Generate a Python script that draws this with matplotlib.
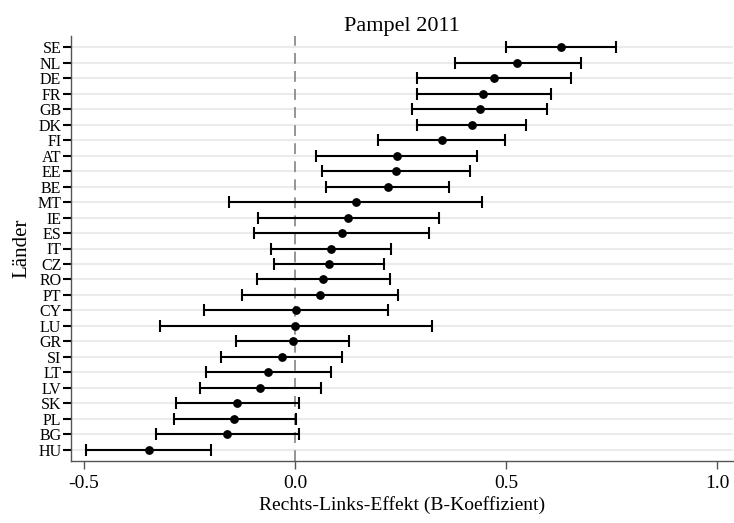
import matplotlib
matplotlib.use("Agg")
import matplotlib.pyplot as plt
import numpy as np

plt.rcParams['font.family'] = ['Liberation Serif', 'DejaVu Serif']

# Daten (von oben nach unten)
countries = ['SE', 'NL', 'DE', 'FR', 'GB', 'DK', 'FI', 'AT', 'EE', 'BE', 'MT', 'IE', 'ES',
             'IT', 'CZ', 'RO', 'PT', 'CY', 'LU', 'GR', 'SI', 'LT', 'LV', 'SK', 'PL', 'BG', 'HU']
estimate = [0.630, 0.527, 0.471, 0.446, 0.438, 0.419, 0.348, 0.241, 0.239, 0.220, 0.144, 0.126, 0.111,
            0.085, 0.081, 0.066, 0.058, 0.002, 0.001, -0.006, -0.032, -0.064, -0.082, -0.137, -0.144, -0.161, -0.347]
lower = [0.500, 0.378, 0.288, 0.289, 0.277, 0.289, 0.197, 0.050, 0.063, 0.074, -0.156, -0.088, -0.097,
         -0.057, -0.050, -0.090, -0.126, -0.216, -0.319, -0.140, -0.175, -0.211, -0.226, -0.281, -0.288, -0.329, -0.495]
upper = [0.761, 0.677, 0.654, 0.607, 0.598, 0.548, 0.497, 0.432, 0.414, 0.366, 0.444, 0.341, 0.318,
         0.227, 0.210, 0.224, 0.243, 0.221, 0.324, 0.129, 0.111, 0.085, 0.062, 0.010, 0.002, 0.009, -0.199]
xticks = [-0.5, 0.0, 0.5, 1.0]
xticklabels = ['-0.5', '0.0', '0.5', '1.0']

est = np.array(estimate)
lo = np.array(lower)
hi = np.array(upper)
n = len(countries)
y = np.arange(n)[::-1]

fig = plt.figure(figsize=(7.34, 5.23), dpi=100)
ax = fig.add_axes([71 / 734, 62 / 523, 662 / 734, 425 / 523])

for yy in y:
    ax.axhline(yy, color='#ebebeb', lw=1.5, zorder=0)
ax.axvline(0, color='#8c8c8c', lw=1.3, ls=(0, (6, 4)), zorder=1)

ax.errorbar(est, y, xerr=[est - lo, hi - est], fmt='o', color='black', ms=5.3,
            ecolor='black', elinewidth=1.5, capsize=4, capthick=1.5, zorder=3)

ax.set_xlim(-0.531, 1.038)
ax.set_ylim(-0.72, n - 1 + 0.72)
ax.set_yticks(y)
ax.set_yticklabels(countries, fontsize=11.5)
ax.set_xticks(xticks)
ax.set_xticklabels(xticklabels, fontsize=14)

for s in ['top', 'right']:
    ax.spines[s].set_visible(False)
for s in ['left', 'bottom']:
    ax.spines[s].set_color('#555555')
    ax.spines[s].set_linewidth(1.0)
ax.tick_params(axis='y', length=6, width=1.5, color='black', pad=1)
ax.tick_params(axis='x', length=6, width=1.0, color='#555555', pad=4)

ax.set_title('Pampel 2011', fontsize=16, pad=3)
ax.set_xlabel('Rechts-Links-Effekt (B-Koeffizient)', fontsize=14, labelpad=3)
ax.set_ylabel('Länder', fontsize=15, labelpad=4)

fig.savefig('out.png', dpi=100)
